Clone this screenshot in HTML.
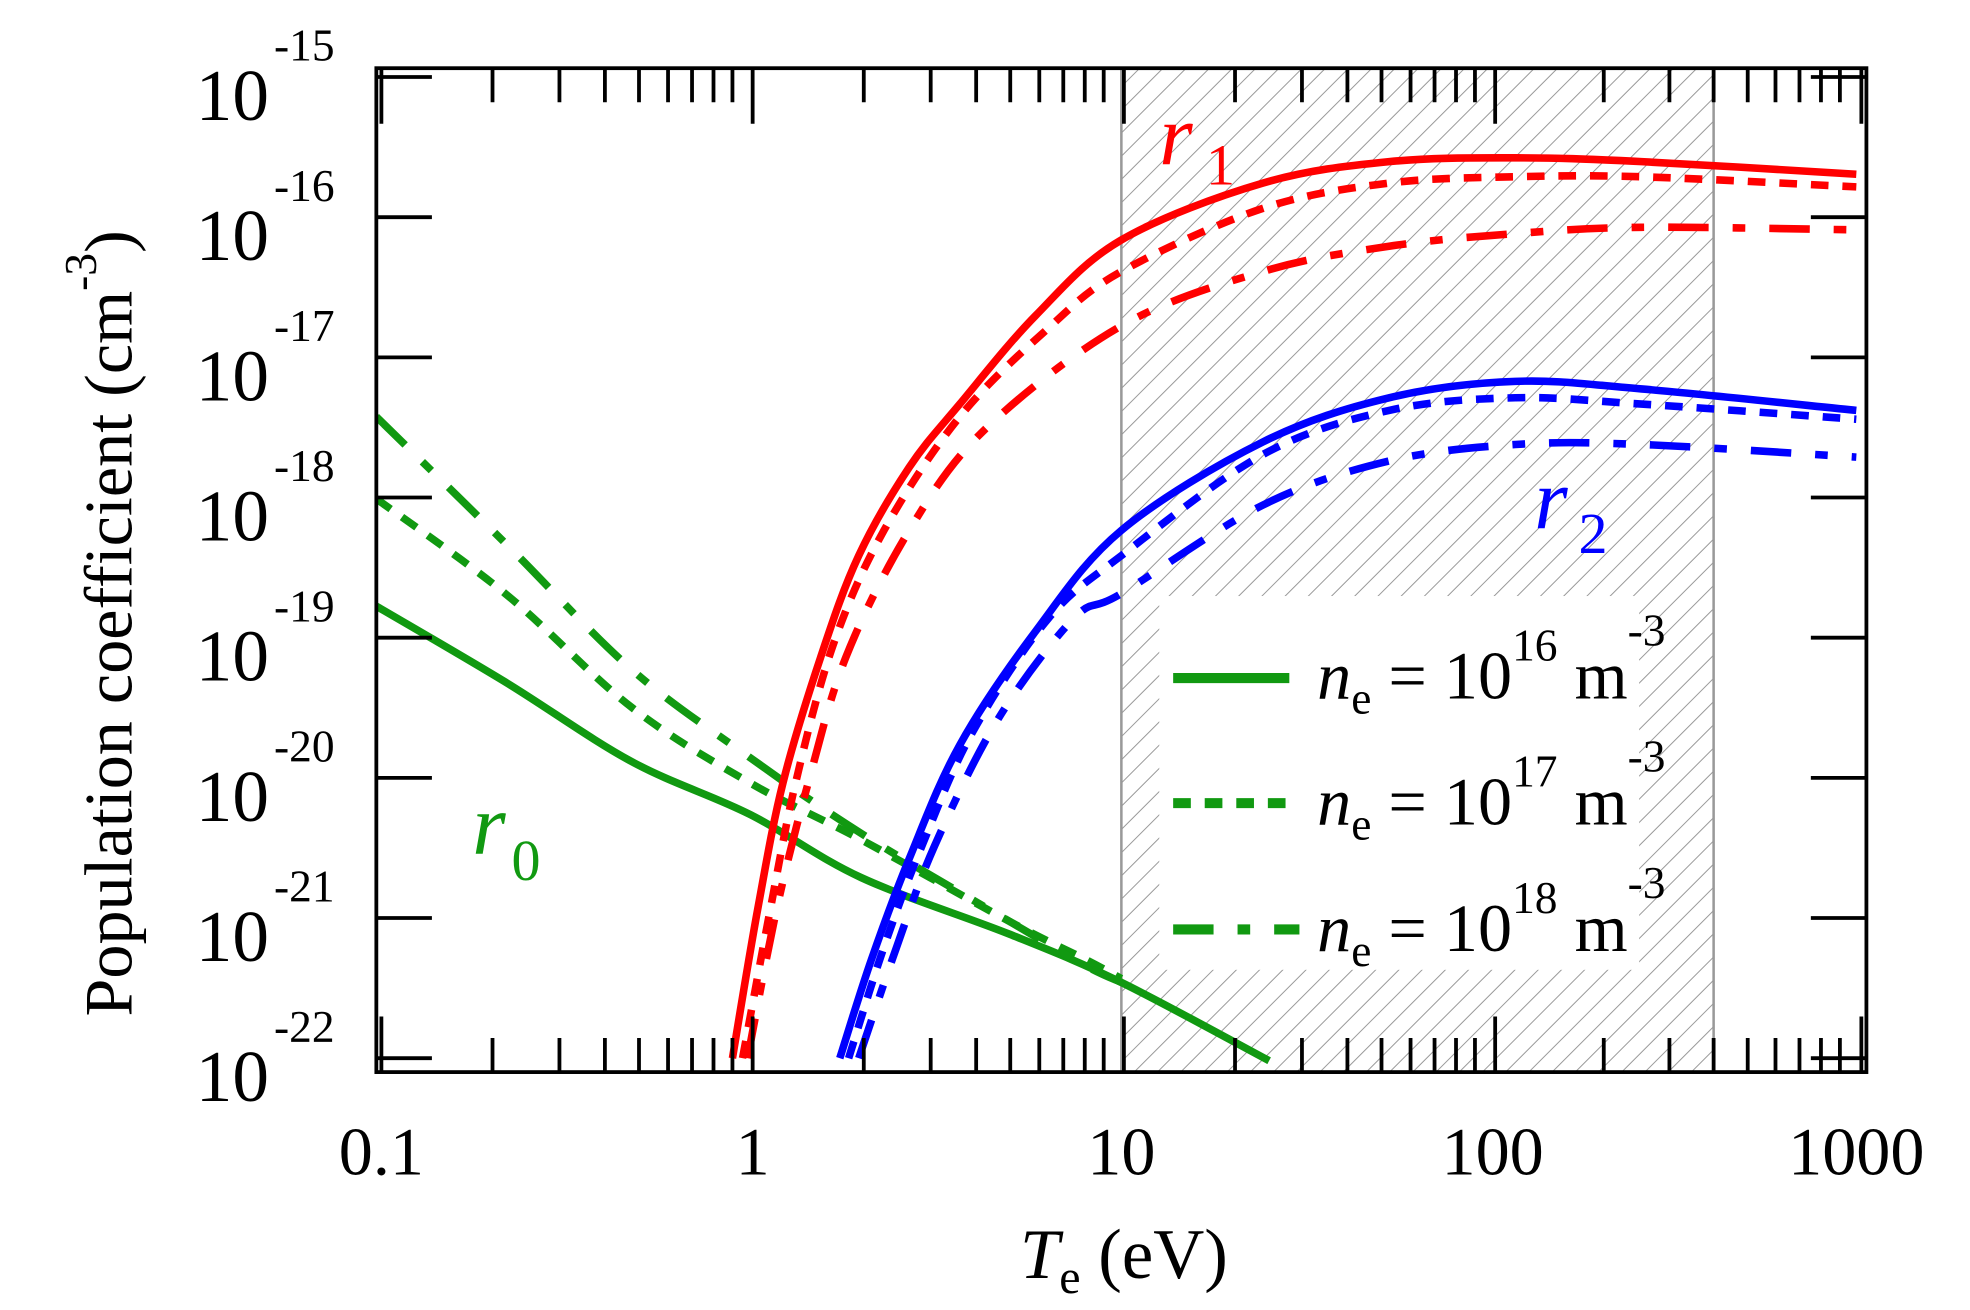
<!DOCTYPE html>
<html><head><meta charset="utf-8"><style>
html,body{margin:0;padding:0;background:#fff;overflow:hidden}
svg{display:block}
text{font-family:"Liberation Serif",serif}
</style></head><body>
<svg width="1970" height="1310" viewBox="0 0 1560 1037.4" xmlns="http://www.w3.org/2000/svg">
<defs>
<pattern id="h" patternUnits="userSpaceOnUse" width="13" height="13" patternTransform="rotate(45)">
<line x1="0" y1="0" x2="0" y2="13" stroke="#999" stroke-width="1.6"/>
</pattern>
<clipPath id="c"><rect x="298" y="54" width="1180" height="795"/></clipPath>
</defs>
<rect x="888" y="54" width="469" height="795" fill="url(#h)"/>
<line x1="888" y1="54" x2="888" y2="849" stroke="#999" stroke-width="2"/>
<line x1="1357" y1="54" x2="1357" y2="849" stroke="#999" stroke-width="2"/>
<rect x="918" y="472" width="380" height="296" fill="#fff"/>

<g clip-path="url(#c)" fill="none" stroke-width="6" stroke-linejoin="round" id="curves">
<polyline stroke="#119911" points="298,480 400,540 500,603 594,645 682,695 800,740 888,778 1005,840"/>
<polyline stroke="#119911" stroke-dasharray="14,11" points="298,395 400,470 500,560 594,620 682,665 800,730 860,760 888,775"/>
<polyline stroke="#119911" stroke-dasharray="32,19,10,19" points="298,330 400,430 500,530 594,600 682,660 800,730 860,765 888,778"/>
<polyline stroke="#ff0000" points="580,838 600,720 620,620 650,520 680,440 720,370 760,320 820,250 888,190 1000,145 1100,128 1200,125 1300,128 1470,138"/>
<polyline stroke="#ff0000" stroke-dasharray="14,11" points="588,838 610,720 630,620 660,510 700,420 760,330 830,260 888,215 1000,165 1100,145 1200,140 1300,140 1470,148"/>
<polyline stroke="#ff0000" stroke-dasharray="32,19,10,19" points="592,838 615,720 640,620 670,520 720,420 780,340 888,258 1000,215 1100,195 1200,185 1300,180 1470,182"/>
<polyline stroke="#0000ff" points="665,838 690,760 720,680 760,590 820,500 888,420 1000,350 1100,315 1200,302 1300,308 1470,325"/>
<polyline stroke="#0000ff" stroke-dasharray="14,11" points="672,838 700,750 730,670 770,580 830,490 888,440 1000,360 1100,325 1200,315 1300,320 1470,332"/>
<polyline stroke="#0000ff" stroke-dasharray="32,19,10,19" points="680,838 710,750 740,670 790,570 850,490 888,470 1000,400 1100,365 1200,352 1300,352 1470,362"/>
</g>

<rect x="298" y="54" width="1180" height="795" fill="none" stroke="#000" stroke-width="3"/>
<g stroke="#000" stroke-width="3">
<path d="M298,61h44M298,172h44M298,283h44M298,394h44M298,505h44M298,616h44M298,727h44M298,838h44
M1478,61h-44M1478,172h-44M1478,283h-44M1478,394h-44M1478,505h-44M1478,616h-44M1478,727h-44M1478,838h-44"/>
<path d="M302,849v-44M596,849v-44M890,849v-44M1184,849v-44M1474,849v-44
M302,54v44M596,54v44M890,54v44M1184,54v44M1474,54v44"/>
<path d="M390,849v-27M443,849v-27M479,849v-27M506,849v-27M529,849v-27M548,849v-27M565,849v-27M580,849v-27
M684,849v-27M737,849v-27M773,849v-27M800,849v-27M823,849v-27M842,849v-27M859,849v-27M874,849v-27
M978,849v-27M1031,849v-27M1067,849v-27M1094,849v-27M1117,849v-27M1136,849v-27M1153,849v-27M1168,849v-27
M1270,849v-27M1322,849v-27M1357,849v-27M1384,849v-27M1406,849v-27M1425,849v-27M1442,849v-27M1457,849v-27
M390,54v27M443,54v27M479,54v27M506,54v27M529,54v27M548,54v27M565,54v27M580,54v27
M684,54v27M737,54v27M773,54v27M800,54v27M823,54v27M842,54v27M859,54v27M874,54v27
M978,54v27M1031,54v27M1067,54v27M1094,54v27M1117,54v27M1136,54v27M1153,54v27M1168,54v27
M1270,54v27M1322,54v27M1357,54v27M1384,54v27M1406,54v27M1425,54v27M1442,54v27M1457,54v27"/>
</g>

<g font-size="58" fill="#000">
<text x="155" y="95">10</text><text x="217" y="48" font-size="36">-15</text>
<text x="155" y="206">10</text><text x="217" y="159" font-size="36">-16</text>
<text x="155" y="317">10</text><text x="217" y="270" font-size="36">-17</text>
<text x="155" y="428">10</text><text x="217" y="381" font-size="36">-18</text>
<text x="155" y="539">10</text><text x="217" y="492" font-size="36">-19</text>
<text x="155" y="650">10</text><text x="217" y="603" font-size="36">-20</text>
<text x="155" y="761">10</text><text x="217" y="714" font-size="36">-21</text>
<text x="155" y="872">10</text><text x="217" y="825" font-size="36">-22</text>
</g>
<g font-size="54" fill="#000" text-anchor="middle">
<text x="302" y="930">0.1</text><text x="596" y="930">1</text><text x="888" y="930">10</text><text x="1182" y="930">100</text><text x="1470" y="930">1000</text>
</g>
<text x="890" y="1012" font-size="56" text-anchor="middle"><tspan font-style="italic">T</tspan><tspan font-size="38" dy="12">e</tspan><tspan dy="-12"> (eV)</tspan></text>
<text transform="translate(104,805) rotate(-90)" font-size="54">Population coefficient (cm<tspan font-size="36" dy="-28">-3</tspan><tspan dy="28">)</tspan></text>

<text x="918" y="130" font-size="68" font-style="italic" fill="#ff0000">r</text><text x="955" y="146" font-size="46" fill="#ff0000">1</text>
<text x="1215" y="418" font-size="68" font-style="italic" fill="#0000ff">r</text><text x="1250" y="438" font-size="46" fill="#0000ff">2</text>
<text x="374" y="676" font-size="68" font-style="italic" fill="#119911">r</text><text x="405" y="697" font-size="46" fill="#119911">0</text>

<g stroke="#119911" stroke-width="8">
<line x1="929" y1="537" x2="1021" y2="537"/>
<line x1="929" y1="636" x2="1021" y2="636" stroke-dasharray="14,11"/>
<line x1="929" y1="736" x2="1029" y2="736" stroke-dasharray="32,19,10,19"/>
</g>
<g font-size="54" fill="#000">
<text x="1043" y="553"><tspan font-style="italic">n</tspan><tspan font-size="36" dy="12">e</tspan><tspan dy="-12"> = 10</tspan><tspan font-size="36" dy="-30">16</tspan><tspan dy="30"> m</tspan><tspan font-size="36" dy="-42">-3</tspan></text>
<text x="1043" y="653"><tspan font-style="italic">n</tspan><tspan font-size="36" dy="12">e</tspan><tspan dy="-12"> = 10</tspan><tspan font-size="36" dy="-30">17</tspan><tspan dy="30"> m</tspan><tspan font-size="36" dy="-42">-3</tspan></text>
<text x="1043" y="753"><tspan font-style="italic">n</tspan><tspan font-size="36" dy="12">e</tspan><tspan dy="-12"> = 10</tspan><tspan font-size="36" dy="-30">18</tspan><tspan dy="30"> m</tspan><tspan font-size="36" dy="-42">-3</tspan></text>
</g>
</svg>
<script>
document.querySelectorAll('#curves polyline').forEach(function(pl){
  var p=pl.getAttribute('points').trim().split(/\s+/).map(function(s){return s.split(',').map(Number);});
  var d='M'+p[0][0]+','+p[0][1];
  for(var i=0;i<p.length-1;i++){
    var p0=p[i-1]||p[i],p1=p[i],p2=p[i+1],p3=p[i+2]||p2;
    var c1=[p1[0]+(p2[0]-p0[0])/6,p1[1]+(p2[1]-p0[1])/6];
    var c2=[p2[0]-(p3[0]-p1[0])/6,p2[1]-(p3[1]-p1[1])/6];
    d+='C'+c1[0].toFixed(1)+','+c1[1].toFixed(1)+' '+c2[0].toFixed(1)+','+c2[1].toFixed(1)+' '+p2[0]+','+p2[1];
  }
  var path=document.createElementNS('http://www.w3.org/2000/svg','path');
  ['stroke','stroke-dasharray'].forEach(function(a){if(pl.getAttribute(a))path.setAttribute(a,pl.getAttribute(a));});
  path.setAttribute('d',d);
  pl.parentNode.replaceChild(path,pl);
});
</script>
</body></html>
